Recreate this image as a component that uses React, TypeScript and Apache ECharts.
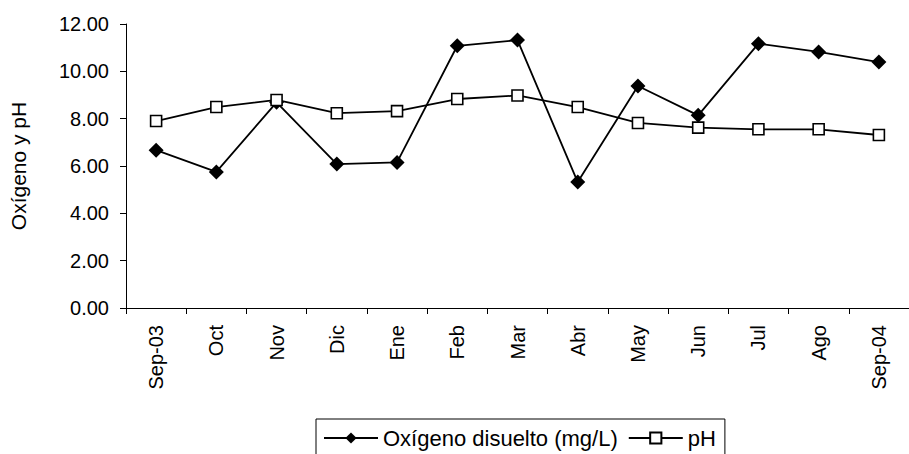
import React, { useEffect, useRef } from "react";
import * as echarts from "echarts";

// Monthly samples, Sep 2003 – Sep 2004
const months = ["Sep-03", "Oct", "Nov", "Dic", "Ene", "Feb", "Mar", "Abr", "May", "Jun", "Jul", "Ago", "Sep-04"];
const oxigenoDisuelto = [6.67, 5.75, 8.69, 6.08, 6.15, 11.08, 11.32, 5.32, 9.38, 8.14, 11.17, 10.82, 10.39];
const ph = [7.9, 8.49, 8.79, 8.23, 8.32, 8.83, 8.98, 8.49, 7.82, 7.62, 7.55, 7.55, 7.31];
const yTicks = { min: 0, max: 12, interval: 2 };

const FONT = "'Liberation Sans', Arial, sans-serif";

export default function App() {
  const ref = useRef<HTMLDivElement>(null);

  useEffect(() => {
    if (!ref.current) return;
    const chart = echarts.init(ref.current, undefined, { renderer: "svg" });
    chart.setOption({
      animation: false,
      backgroundColor: "#fff",
      textStyle: { fontFamily: FONT, color: "#000" },
      grid: { left: 118, top: 24, right: -10, bottom: 146 },
      legend: {
        left: 316,
        top: 419,
        orient: "horizontal",
        borderColor: "#000",
        borderWidth: 1,
        borderRadius: 0,
        padding: [8, 9, 12, 7],
        itemWidth: 54,
        itemHeight: 14,
        itemGap: 10,
        textStyle: { fontFamily: FONT, fontSize: 22, color: "#000" },
        data: ["Oxígeno disuelto (mg/L)", "pH"],
      },
      xAxis: {
        type: "category",
        data: months,
        boundaryGap: true,
        axisLine: { lineStyle: { color: "#000", width: 1 } },
        axisTick: { show: true, length: 6, inside: false, alignWithLabel: false, lineStyle: { color: "#000" } },
        axisLabel: { rotate: 90, margin: 17, fontSize: 20, color: "#000", fontFamily: FONT, interval: 0 },
        splitLine: { show: false },
      },
      yAxis: {
        type: "value",
        min: yTicks.min,
        max: yTicks.max,
        interval: yTicks.interval,
        name: "Oxígeno y pH",
        nameLocation: "middle",
        nameGap: 97,
        nameTextStyle: { fontSize: 21, color: "#000", fontFamily: FONT },
        axisLine: { show: true, lineStyle: { color: "#000", width: 1 } },
        axisTick: { show: true, length: 6, lineStyle: { color: "#000" } },
        axisLabel: {
          margin: 17,
          fontSize: 20,
          color: "#000",
          fontFamily: FONT,
          formatter: (v: number) => v.toFixed(2),
        },
        splitLine: { show: false },
      },
      series: [
        {
          name: "Oxígeno disuelto (mg/L)",
          type: "line",
          data: oxigenoDisuelto,
          symbol: "diamond",
          symbolSize: 15,
          itemStyle: { color: "#000" },
          lineStyle: { color: "#000", width: 1.8 },
          z: 2,
        },
        {
          name: "pH",
          type: "line",
          data: ph,
          symbol: "rect",
          symbolSize: 11,
          itemStyle: { color: "#fff", borderColor: "#000", borderWidth: 1.6 },
          lineStyle: { color: "#000", width: 1.8 },
          z: 3,
        },
      ],
    });
    return () => chart.dispose();
  }, []);

  return (
    <div
      ref={ref}
      style={{ position: "fixed", left: 0, top: 0, width: 909, height: 454, background: "#fff" }}
    />
  );
}
